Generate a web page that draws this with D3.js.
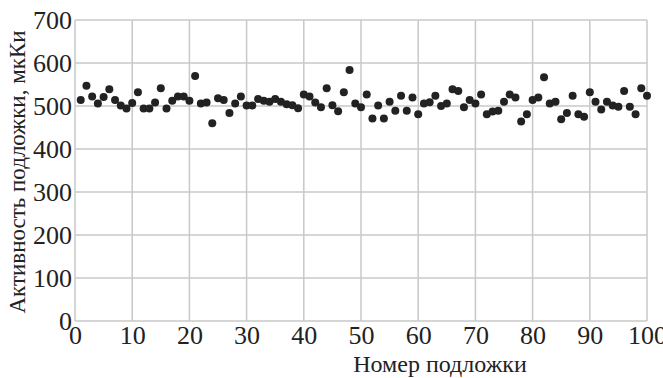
<!DOCTYPE html>
<html><head><meta charset="utf-8">
<script src="https://cdn.jsdelivr.net/npm/d3@7"></script>
<style>body{margin:0;background:#fff}</style>
</head><body><svg id="c" width="663" height="378"></svg>
<script>
const xTicks = [0,10,20,30,40,50,60,70,80,90,100];
const yTicks = [0,100,200,300,400,500,600,700];
const waferNo = d3.range(1,101);
const activity = [514,547,522,506,521,539,514,501,494,507,
532,494,494,508,541,494,512,522,522,512,
570,506,508,460,518,514,484,506,522,501,
501,516,512,510,516,510,504,502,495,527,
522,508,497,541,502,488,532,584,506,497,
527,471,501,471,510,489,524,489,520,481,
506,509,524,500,506,539,535,497,514,506,
527,481,487,489,510,527,520,464,481,514,
520,567,506,510,469,484,524,481,475,532,
510,492,510,501,498,535,498,481,541,524];
const xTitle = "Номер подложки";
const yTitle = "Активность подложки, мкКи";

const FONT = "Liberation Serif";
const svg = d3.select("#c");
const x = d3.scaleLinear().domain([0,100]).range([75,647]);
const y = d3.scaleLinear().domain([0,700]).range([321,20]);
const grid = "#c8c8c8";

svg.append("g").selectAll("line").data(xTicks).join("line")
  .attr("x1",d=>x(d)).attr("x2",d=>x(d)).attr("y1",y(0)).attr("y2",y(700))
  .attr("stroke",grid).attr("stroke-width",1.5);
svg.append("g").selectAll("line").data(yTicks).join("line")
  .attr("x1",x(0)).attr("x2",x(100)).attr("y1",d=>y(d)).attr("y2",d=>y(d))
  .attr("stroke",grid).attr("stroke-width",1.5);

const xa = svg.append("g").attr("transform",`translate(0,${y(0)})`)
  .call(d3.axisBottom(x).tickValues(xTicks).tickSize(0).tickPadding(5))
  .attr("font-family",FONT).attr("font-size",26);
xa.select(".domain").remove();
xa.selectAll("text").attr("font-family",FONT).attr("font-size",26).attr("fill","#222");
const ya = svg.append("g").attr("transform",`translate(${x(0)},0)`)
  .call(d3.axisLeft(y).tickValues(yTicks).tickSize(0).tickPadding(3))
  .attr("font-family",FONT).attr("font-size",26);
ya.select(".domain").remove();
ya.selectAll("text").attr("font-family",FONT).attr("font-size",26).attr("fill","#222");

svg.append("g").selectAll("circle").data(waferNo).join("circle")
  .attr("cx",d=>x(d)).attr("cy",(d,i)=>y(activity[i])).attr("r",4).attr("fill","#222");

svg.append("text").attr("x",440).attr("y",372).attr("text-anchor","middle")
  .attr("font-family",FONT).attr("font-size",24).attr("fill","#222").text(xTitle);
svg.append("text").attr("transform","translate(25,172) rotate(-90)").attr("text-anchor","middle")
  .attr("font-family",FONT).attr("font-size",23).attr("fill","#222").text(yTitle);
</script></body></html>
